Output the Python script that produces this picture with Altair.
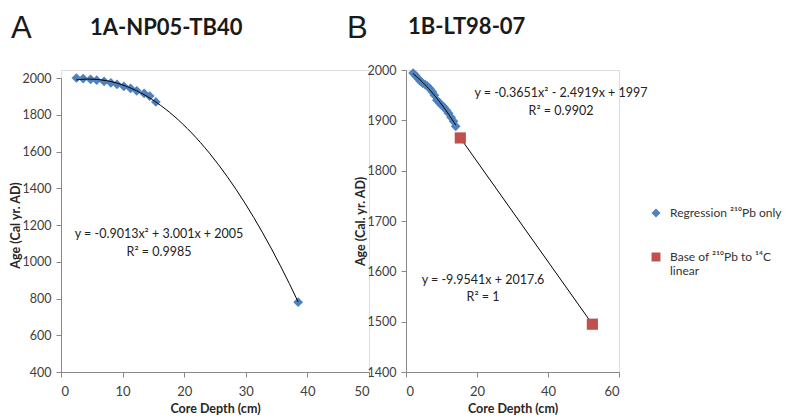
import altair as alt
import pandas as pd

S1 = "Regression ²¹⁰Pb only"
S2 = "Base of ²¹⁰Pb  to ¹⁴C|linear"

# Panel A: 1A-NP05-TB40
a_depth = [2.5, 3.6, 4.8, 5.8, 7.0, 8.1, 9.1, 10.2, 11.3, 12.3, 13.5, 14.4, 15.4, 38.5]
a_age = [2000, 1997, 1993, 1988, 1981, 1974, 1965, 1955, 1943, 1930, 1916, 1902, 1870, 780]

# Panel B: 1B-LT98-07
b_depth = [2.0, 2.7, 3.4, 4.0, 4.7, 5.4, 6.0, 6.7, 7.4, 8.0, 8.7, 9.4, 10.0, 10.7, 11.4, 12.0, 12.7, 13.4, 14.0]
b_age = [1994, 1989, 1983, 1978, 1974, 1971, 1968, 1963, 1957, 1950, 1940, 1935, 1930, 1926, 1920, 1914, 1906, 1898, 1888]
b_base_depth = [15.3, 52.5]
b_base_age = [1865, 1495]

a_df = pd.DataFrame({"x": a_depth, "y": a_age, "series": S1})
b_df = pd.DataFrame({"x": b_depth, "y": b_age, "series": S1})
b_base_df = pd.DataFrame({"x": b_base_depth, "y": b_base_age, "series": S2})

FONT = "Lato"
BLUE = "#4F81BD"
RED = "#C0504D"

color_scale = alt.Scale(domain=[S1, S2], range=[BLUE, RED])
shape_scale = alt.Scale(domain=[S1, S2], range=["diamond", "square"])
legend = alt.Legend(
    title=None, orient="none", legendX=589, legendY=137,
    labelFont=FONT, labelFontSize=12, labelColor="#333333",
    labelExpr="split(datum.label, '|')", labelLimit=160, labelBaseline="middle",
    symbolSize=80, symbolStrokeWidth=0, labelOffset=8, rowPadding=32,
    padding=0,
)

def axis_x(values):
    return alt.Axis(values=values, format="d", grid=False, domainColor="#888888", tickColor="#888888",
                    tickSize=5, labelFont=FONT, labelFontSize=13, labelColor="#404040",
                    labelPadding=8, titleFont=FONT, titleFontSize=12.5, titleFontWeight="bold",
                    titleColor="#262626", titlePadding=4)

def axis_y(values, title):
    return alt.Axis(values=values, format="d", grid=False, domainColor="#888888", tickColor="#888888",
                    tickSize=5, labelFont=FONT, labelFontSize=12.5, labelColor="#404040",
                    labelPadding=5, title=title, titleFont=FONT, titleFontSize=12.5,
                    titleFontWeight="bold", titleColor="#262626", titlePadding=0)

# ---- Panel A ----
ax = alt.X("x:Q", title="Core Depth (cm)", scale=alt.Scale(domain=[0, 50], nice=False),
           axis=axis_x([0, 10, 20, 30, 40, 50]))
ay = alt.Y("y:Q", scale=alt.Scale(domain=[400, 2000], range=[302, 8], nice=False),
           axis=axis_y([400, 600, 800, 1000, 1200, 1400, 1600, 1800, 2000], "Age (Cal yr. AD)"))

a_points = alt.Chart(a_df).mark_point(filled=True, size=95, opacity=1).encode(
    x=ax, y=ay,
    color=alt.Color("series:N", scale=color_scale, legend=legend),
    shape=alt.Shape("series:N", scale=shape_scale, legend=legend),
)
a_trend = alt.Chart(a_df).transform_regression("x", "y", method="poly", order=2).mark_line(
    color="black", strokeWidth=1).encode(x=ax, y=ay)

def txt(text, x, y, size=12.5, weight="normal", align="center", font=FONT, color="#222222"):
    return alt.Chart().mark_text(text=text, fontSize=size, fontWeight=weight, align=align,
                                 baseline="alphabetic", font=font, color=color).encode(
        x=alt.value(x), y=alt.value(y))

a_texts = [
    txt("A", -50, -32, size=31, font="Liberation Sans", color="#1a1a1a", align="left"),
    txt("1A-NP05-TB40", 29, -35, size=22, weight="bold", align="left", color="#1a1a1a"),
    txt("y = -0.9013x² + 3.001x + 2005", 98, 168),
    txt("R² = 0.9985", 98, 186),
]
panel_a = alt.layer(a_points, a_trend, *a_texts).properties(width=308, height=302)

# ---- Panel B ----
bx = alt.X("x:Q", title="Core Depth (cm)", scale=alt.Scale(domain=[0, 60], nice=False),
           axis=axis_x([0, 20, 40, 60]))
by = alt.Y("y:Q", scale=alt.Scale(domain=[1400, 2000], nice=False),
           axis=axis_y([1400, 1500, 1600, 1700, 1800, 1900, 2000], "Age (Cal. yr. AD)"))

b_points = alt.Chart(b_df).mark_point(filled=True, size=95, opacity=1).encode(
    x=bx, y=by,
    color=alt.Color("series:N", scale=color_scale, legend=legend),
    shape=alt.Shape("series:N", scale=shape_scale, legend=legend),
)
b_trend = alt.Chart(b_df).transform_regression("x", "y", method="poly", order=2).mark_line(
    color="black", strokeWidth=1).encode(x=bx, y=by)
b_line = alt.Chart(b_base_df).mark_line(color="black", strokeWidth=1).encode(x=bx, y=by)
b_base = alt.Chart(b_base_df).mark_point(filled=True, size=125, opacity=1).encode(
    x=bx, y=by,
    color=alt.Color("series:N", scale=color_scale, legend=legend),
    shape=alt.Shape("series:N", scale=shape_scale, legend=legend),
)
b_texts = [
    txt("B", -59, -32, size=31, font="Liberation Sans", color="#1a1a1a", align="left"),
    txt("1B-LT98-07", 2, -36, size=22, weight="bold", align="left", color="#1a1a1a"),
    txt("y = -0.3651x² - 2.4919x + 1997", 155, 27),
    txt("R² = 0.9902", 155, 45),
    txt("y = -9.9541x + 2017.6", 77, 214),
    txt("R² = 1", 77, 231),
]
panel_b = alt.layer(b_points, b_trend, b_line, b_base, *b_texts).properties(width=213, height=302)

chart = alt.hconcat(panel_a, panel_b, spacing=37, bounds="flush").properties(
    padding={"left": 0, "top": 4, "right": 0, "bottom": 0}
).configure_view(stroke=None).configure(background="white")

chart.save("out.html", embed_options={"renderer": "svg", "actions": False})
